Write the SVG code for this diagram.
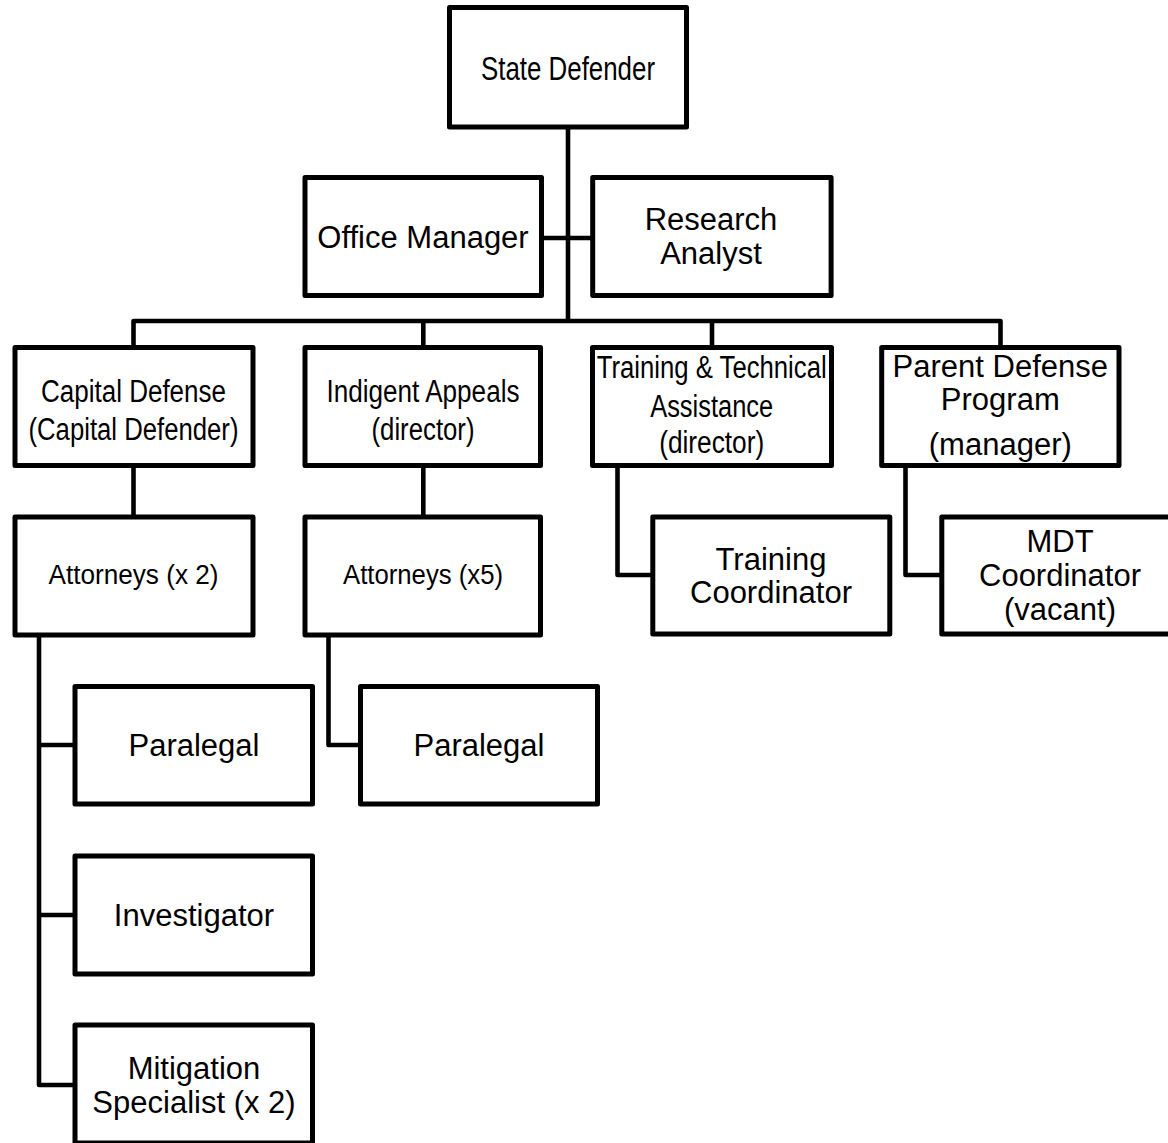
<svg xmlns="http://www.w3.org/2000/svg" width="1168" height="1143" viewBox="0 0 1168 1143">
<style>
.box{fill:#fff;stroke:#000;stroke-width:5;stroke-linejoin:round}
.ln{fill:none;stroke:#000;stroke-width:4.6;stroke-linejoin:round}
text{font-family:"Liberation Sans",Arial,sans-serif;fill:#000;text-anchor:middle}
.r{font-size:31px}
.c{font-size:31px}
</style>
<rect width="1168" height="1143" fill="#fff"/>
<g id="connectors">
<path class="ln" d="M568 127 V321"/>
<path class="ln" d="M541.5 238 H592.7"/>
<path class="ln" d="M133.5 347.5 V321 H1000.5 V347.5"/>
<path class="ln" d="M423.3 321 V347.5"/>
<path class="ln" d="M712 321 V347.5"/>
<path class="ln" d="M133.5 465.5 V517"/>
<path class="ln" d="M423.3 465.5 V517"/>
<path class="ln" d="M617.5 465.5 V575 H652.8"/>
<path class="ln" d="M905.5 465.5 V575 H941.8"/>
<path class="ln" d="M39 635 V1085 H75"/>
<path class="ln" d="M39 745 H75"/>
<path class="ln" d="M39 915 H75"/>
<path class="ln" d="M328.5 635 V745 H360.5"/>
</g>
<g id="state-defender">
<rect class="box" x="449.5" y="7.5" width="237" height="119.5"/>
<text x="568" y="80" style="font-size:33px" textLength="174" lengthAdjust="spacingAndGlyphs">State Defender</text>
</g>
<g id="office-manager">
<rect class="box" x="305" y="177.5" width="236.5" height="118"/>
<text class="r" x="423" y="248">Office Manager</text>
</g>
<g id="research-analyst">
<rect class="box" x="592.7" y="177.5" width="238.4" height="118"/>
<text class="r" x="711" y="230">Research</text>
<text class="r" x="711" y="264">Analyst</text>
</g>
<g id="capital-defense">
<rect class="box" x="15" y="347.5" width="238" height="118"/>
<text class="c" x="133.5" y="402" textLength="185" lengthAdjust="spacingAndGlyphs">Capital Defense</text>
<text class="c" x="133.5" y="440" textLength="210" lengthAdjust="spacingAndGlyphs">(Capital Defender)</text>
</g>
<g id="indigent-appeals">
<rect class="box" x="305" y="347.5" width="235.5" height="118"/>
<text class="c" x="423" y="402" textLength="193" lengthAdjust="spacingAndGlyphs">Indigent Appeals</text>
<text class="c" x="423" y="440" textLength="103" lengthAdjust="spacingAndGlyphs">(director)</text>
</g>
<g id="training-technical">
<rect class="box" x="592.5" y="347.5" width="239" height="118"/>
<text class="c" x="711.7" y="378" textLength="230" lengthAdjust="spacingAndGlyphs">Training &amp; Technical</text>
<text class="c" x="711.7" y="417" textLength="123" lengthAdjust="spacingAndGlyphs">Assistance</text>
<text class="c" x="711.7" y="453" textLength="105" lengthAdjust="spacingAndGlyphs">(director)</text>
</g>
<g id="parent-defense">
<rect class="box" x="881.7" y="347.5" width="237.3" height="118"/>
<text class="r" x="1000.3" y="377">Parent Defense</text>
<text class="r" x="1000.3" y="410">Program</text>
<text class="r" x="1000.3" y="455">(manager)</text>
</g>
<g id="attorneys-capital">
<rect class="box" x="15" y="517" width="238" height="118"/>
<text x="133.5" y="584" style="font-size:27px" textLength="170" lengthAdjust="spacingAndGlyphs">Attorneys (x 2)</text>
</g>
<g id="attorneys-indigent">
<rect class="box" x="305" y="517" width="235.5" height="118"/>
<text x="423" y="584" style="font-size:27px" textLength="160" lengthAdjust="spacingAndGlyphs">Attorneys (x5)</text>
</g>
<g id="training-coordinator">
<rect class="box" x="652.8" y="517" width="237" height="117"/>
<text class="r" x="771" y="570">Training</text>
<text class="r" x="771" y="603">Coordinator</text>
</g>
<g id="mdt-coordinator">
<rect class="box" x="941.8" y="517" width="236" height="117"/>
<text class="r" x="1060" y="552">MDT</text>
<text class="r" x="1060" y="586">Coordinator</text>
<text class="r" x="1060" y="620">(vacant)</text>
</g>
<g id="paralegal-capital">
<rect class="box" x="75" y="686.5" width="237.5" height="117.5"/>
<text class="r" x="194" y="756">Paralegal</text>
</g>
<g id="paralegal-indigent">
<rect class="box" x="360.5" y="686.5" width="237" height="117.5"/>
<text class="r" x="479" y="756">Paralegal</text>
</g>
<g id="investigator">
<rect class="box" x="75" y="856" width="237.5" height="118"/>
<text class="r" x="194" y="926">Investigator</text>
</g>
<g id="mitigation-specialist">
<rect class="box" x="75" y="1025" width="237.5" height="118"/>
<text class="r" x="194" y="1079">Mitigation</text>
<text class="r" x="194" y="1113">Specialist (x 2)</text>
</g>
</svg>
